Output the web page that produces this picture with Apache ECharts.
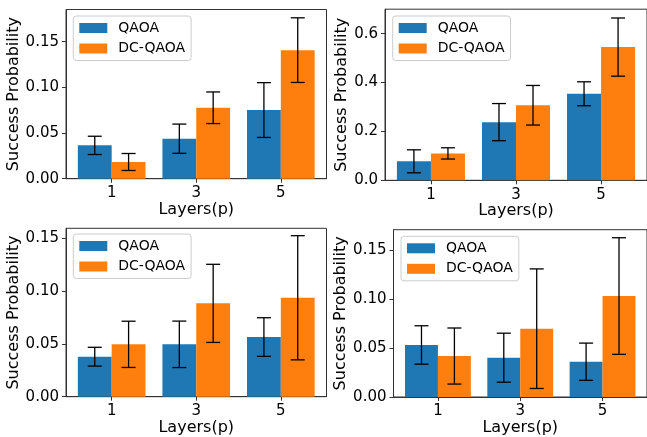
<!DOCTYPE html>
<html><head><meta charset="utf-8">
<script src="https://cdn.jsdelivr.net/npm/echarts@6/dist/echarts.min.js"></script>
<style>html,body{margin:0;padding:0;background:#fff}#c{width:647px;height:437px}</style>
</head><body><div id="c"></div>
<script>
const layers = ['1', '3', '5'];
const seriesNames = ['QAOA', 'DC-QAOA'];
const colors = ['#1f77b4', '#ff7f0e'];
// panel 1 (top-left)
const p1Qaoa = [0.0365, 0.0438, 0.0752];
const p1QaoaErr = [0.0100, 0.0160, 0.0300];
const p1Dc = [0.0183, 0.0777, 0.1408];
const p1DcErr = [0.0093, 0.0173, 0.0354];
// panel 2 (top-right)
const p2Qaoa = [0.0777, 0.238, 0.354];
const p2QaoaErr = [0.047, 0.076, 0.049];
const p2Dc = [0.110, 0.307, 0.545];
const p2DcErr = [0.023, 0.081, 0.119];
// panel 3 (bottom-left)
const p3Qaoa = [0.0379, 0.0496, 0.0565];
const p3QaoaErr = [0.0089, 0.0220, 0.0183];
const p3Dc = [0.0496, 0.0884, 0.0937];
const p3DcErr = [0.0219, 0.0370, 0.0588];
// panel 4 (bottom-right)
const p4Qaoa = [0.0531, 0.0401, 0.0360];
const p4QaoaErr = [0.0196, 0.0250, 0.0190];
const p4Dc = [0.0418, 0.0697, 0.1030];
const p4DcErr = [0.0286, 0.0610, 0.0595];
// tick labels
const yTicksSmall = [0, 0.05, 0.10, 0.15];
const yTicksLarge = [0, 0.2, 0.4, 0.6];
const xTicks = [0, 1, 2];

const panels = [
  {q: p1Qaoa, qe: p1QaoaErr, d: p1Dc, de: p1DcErr, yTicks: yTicksSmall, yMax: 0.1853, dec: 2,
   grid: {left: 66, top: 9.5, width: 260.5, height: 169.2}, legend: {left: 73.3, top: 16}, nameGap: 40},
  {q: p2Qaoa, qe: p2QaoaErr, d: p2Dc, de: p2DcErr, yTicks: yTicksLarge, yMax: 0.70, dec: 1,
   grid: {left: 385, top: 9.2, width: 262, height: 171.1}, legend: {left: 392.7, top: 16}, nameGap: 31},
  {q: p3Qaoa, qe: p3QaoaErr, d: p3Dc, de: p3DcErr, yTicks: yTicksSmall, yMax: 0.1595, dec: 2,
   grid: {left: 66, top: 228.3, width: 260.5, height: 168.4}, legend: {left: 73.3, top: 234}, nameGap: 40},
  {q: p4Qaoa, qe: p4QaoaErr, d: p4Dc, de: p4DcErr, yTicks: yTicksSmall, yMax: 0.1707, dec: 2,
   grid: {left: 393.5, top: 229.7, width: 257.8, height: 167.3}, legend: {left: 401, top: 236.3}, nameGap: 39.5}
];

const BAR_W = 0.4;
const FONT = 'DejaVu Sans';
const AX = '#333';

function barRender(params, api) {
  const x = api.value(0), y = api.value(1);
  const a = api.coord([x - BAR_W / 2, y]);
  const b = api.coord([x + BAR_W / 2, 0]);
  return {type: 'rect', shape: {x: a[0], y: a[1], width: b[0] - a[0], height: b[1] - a[1]},
          style: {fill: api.visual('color')}};
}
function errRender(params, api) {
  const x = api.value(0), y = api.value(1), e = api.value(2);
  const t = api.coord([x, y + e]), b = api.coord([x, y - e]);
  const cap = 7;
  const st = {stroke: '#000', lineWidth: 1.3};
  return {type: 'group', children: [
    {type: 'line', shape: {x1: t[0], y1: t[1], x2: b[0], y2: b[1]}, style: st},
    {type: 'line', shape: {x1: t[0] - cap, y1: t[1], x2: t[0] + cap, y2: t[1]}, style: st},
    {type: 'line', shape: {x1: b[0] - cap, y1: b[1], x2: b[0] + cap, y2: b[1]}, style: st}
  ]};
}

const option = {animation: false, grid: [], xAxis: [], yAxis: [], series: [], legend: []};
panels.forEach((p, k) => {
  option.grid.push(Object.assign({show: true, borderColor: AX, borderWidth: 1, backgroundColor: 'transparent'}, p.grid));
  option.xAxis.push({
    type: 'value', gridIndex: k, min: -0.54, max: 2.54,
    name: 'Layers(p)', nameLocation: 'middle', nameGap: 21,
    nameTextStyle: {fontFamily: FONT, fontSize: 16, color: '#000'},
    axisLine: {show: true, onZero: false, lineStyle: {color: AX, width: 1}},
    axisTick: {show: true, length: 4, lineStyle: {color: AX}, customValues: xTicks},
    axisLabel: {fontFamily: FONT, fontSize: 15, color: '#000', margin: 7, customValues: xTicks,
                formatter: v => layers[Math.round(v)]},
    splitLine: {show: false}
  });
  option.yAxis.push({
    type: 'value', gridIndex: k, min: 0, max: p.yMax,
    name: 'Success Probability', nameLocation: 'middle', nameGap: p.nameGap,
    nameTextStyle: {fontFamily: FONT, fontSize: 16, color: '#000'},
    axisLine: {show: true, onZero: false, lineStyle: {color: AX, width: 1}},
    axisTick: {show: true, length: 4, lineStyle: {color: AX}, customValues: p.yTicks},
    axisLabel: {fontFamily: FONT, fontSize: 15, color: '#000', margin: 7, customValues: p.yTicks,
                formatter: v => v.toFixed(p.dec)},
    splitLine: {show: false}
  });
  const groups = [[p.q, p.qe, -0.2], [p.d, p.de, 0.2]];
  groups.forEach((g, s) => {
    const data = layers.map((_, i) => [i + g[2], g[0][i], g[1][i]]);
    option.series.push({
      type: 'custom', name: seriesNames[s], xAxisIndex: k, yAxisIndex: k,
      itemStyle: {color: colors[s]}, renderItem: barRender, data: data,
      encode: {x: 0, y: 1}, z: 2, silent: true
    });
  });
  groups.forEach((g, s) => {
    const data = layers.map((_, i) => [i + g[2], g[0][i], g[1][i]]);
    option.series.push({
      type: 'custom', name: 'err' + k + s, xAxisIndex: k, yAxisIndex: k,
      renderItem: errRender, data: data, encode: {x: 0, y: 1}, z: 3, silent: true
    });
  });
  option.legend.push({
    data: seriesNames, orient: 'vertical', left: p.legend.left, top: p.legend.top,
    icon: 'rect', itemWidth: 28, itemHeight: 10, itemGap: 6.5, padding: [5, 6, 5, 6],
    backgroundColor: 'rgba(255,255,255,0.8)', borderColor: '#ccc', borderWidth: 1, borderRadius: 3,
    selectedMode: false,
    textStyle: {fontFamily: FONT, fontSize: 14, color: '#000', padding: [0, 0, 0, 6]}
  });
});

const chart = echarts.init(document.getElementById('c'), null, {renderer: 'canvas'});
chart.setOption(option);
</script>
</body></html>
